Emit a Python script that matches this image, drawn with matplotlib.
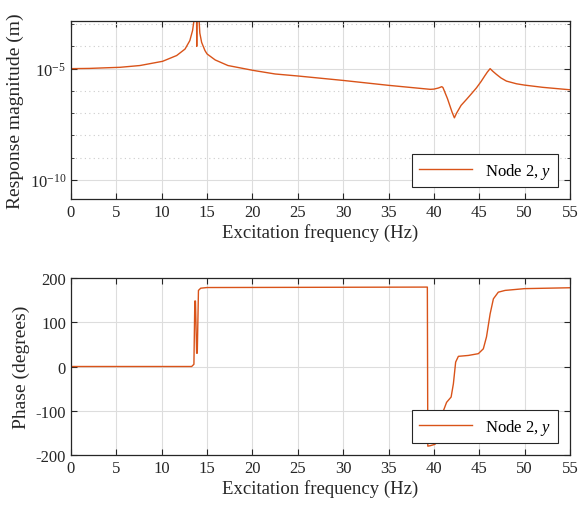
import matplotlib
matplotlib.use('Agg')
import matplotlib.pyplot as plt
from matplotlib.ticker import FixedLocator, LogLocator, NullFormatter

plt.rcParams['font.family'] = ['Liberation Serif', 'DejaVu Serif']
plt.rcParams['mathtext.fontset'] = 'custom'
plt.rcParams['mathtext.rm'] = 'Liberation Serif'
plt.rcParams['mathtext.it'] = 'Liberation Serif:italic'
plt.rcParams['axes.unicode_minus'] = False

# Amplitude as log10 of the magnitude (m)
freq_mag = [0, 2, 4, 5.4, 7.6, 10.1, 11.65, 12.57, 13.1, 13.4, 13.55, 13.65, 13.75,
            13.84, 13.86, 13.88, 14.0, 14.1, 14.2, 14.4, 14.77, 15.0, 15.9, 17.3, 20.1,
            22.5, 25, 30, 35, 39.6, 40.0, 40.5, 40.87, 41.0, 41.5, 42.0, 42.26, 42.5,
            43.0, 43.6, 44.2, 44.7, 45.2, 45.6, 45.9, 46.2, 46.5, 46.9, 47.4, 48.0,
            49.1, 50, 52, 55]
log_mag = [-5.0, -4.99, -4.96, -4.94, -4.86, -4.67, -4.41, -4.12, -3.74, -3.29, -2.86,
           -2.0, -1.5, -2.0, -4.0, -2.0, -1.5, -2.7, -3.4, -3.82, -4.19, -4.34, -4.61,
           -4.86, -5.08, -5.24, -5.33, -5.53, -5.75, -5.93, -5.92, -5.87, -5.81, -5.85,
           -6.35, -6.95, -7.21, -7.0, -6.65, -6.38, -6.1, -5.86, -5.58, -5.33, -5.15,
           -5.0, -5.12, -5.26, -5.42, -5.56, -5.68, -5.74, -5.84, -5.95]
mag = [10 ** v for v in log_mag]

# Phase (degrees)
freq_ph = [0, 13.3, 13.55, 13.65, 13.72, 13.85, 13.92, 14.05, 14.3, 15, 39.28, 39.33,
           39.6, 40.1, 40.5, 41.05, 41.4, 41.9, 42.15, 42.4, 42.7, 43.8, 44.9, 45.45,
           45.8, 46.2, 46.56, 47.1, 47.85, 50, 55]
phase = [0, 0, 5, 148, 148, 30, 30, 172, 177, 178.5, 179.5, -180, -179, -176, -168,
         -100, -81, -69, -39, 10, 23, 25, 29, 40, 67, 119, 153, 168, 172, 176, 178]

xticks = list(range(0, 56, 5))
label = 'Node 2, $\\mathit{y}$'
color = '#D95319'

fig = plt.figure(figsize=(5.79, 5.10), dpi=100)
ax1 = fig.add_axes([0.1226, 0.6078, 0.8618, 0.349])
ax2 = fig.add_axes([0.1226, 0.1059, 0.8618, 0.347])


def style(ax):
    ax.set_xlim(0, 55)
    ax.set_xticks(xticks)
    ax.tick_params(which='both', direction='in', top=True, right=True,
                   labelsize=12, colors='#262626', length=4)
    ax.tick_params(which='minor', length=2)
    ax.grid(True, which='major', color='#dddddd', linewidth=0.8)
    for s in ax.spines.values():
        s.set_color('#262626')
        s.set_linewidth(0.9)
    ax.set_xlabel('Excitation frequency (Hz)', fontsize=13.5, color='#262626', labelpad=2)
    ax.set_axisbelow(True)


ax1.plot(freq_mag, mag, color=color, linewidth=1.0, label=label)
ax1.set_yscale('log')
ax1.set_ylim(10 ** -10.86, 10 ** -2.86)
ax1.yaxis.set_major_locator(FixedLocator([1e-10, 1e-5]))
ax1.yaxis.set_minor_locator(LogLocator(base=10, subs=[1.0], numticks=30))
ax1.yaxis.set_minor_formatter(NullFormatter())
ax1.grid(True, which='minor', axis='y', color='#cccccc', linestyle=(0, (1, 3)), linewidth=0.8)
style(ax1)
ax1.set_ylabel('Response magnitude (m)', fontsize=14, color='#262626')
leg1 = ax1.legend(loc='lower right', fontsize=12, fancybox=False, framealpha=1,
                  edgecolor='#262626', borderaxespad=0.7, handlelength=3.2)
leg1.get_frame().set_linewidth(0.8)

ax2.plot(freq_ph, phase, color=color, linewidth=1.0, label=label)
ax2.set_ylim(-200, 200)
ax2.set_yticks([-200, -100, 0, 100, 200])
style(ax2)
ax2.set_ylabel('Phase (degrees)', fontsize=14, color='#262626')
leg2 = ax2.legend(loc='lower right', fontsize=12, fancybox=False, framealpha=1,
                  edgecolor='#262626', borderaxespad=0.7, handlelength=3.2)
leg2.get_frame().set_linewidth(0.8)

fig.savefig('out.png', dpi=100)
